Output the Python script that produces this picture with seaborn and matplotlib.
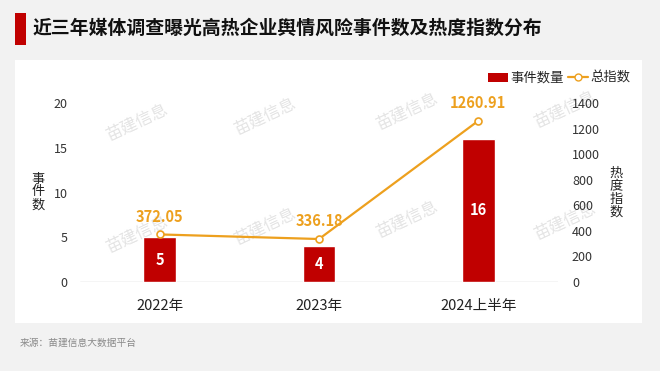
import matplotlib
matplotlib.use("Agg")
import matplotlib.pyplot as plt
import matplotlib.patches as mpatches
from matplotlib.lines import Line2D
import seaborn as sns
import pandas as pd

# data
periods = ["2022年", "2023年", "2024上半年"]
event_counts = [5, 4, 16]
heat_index = [372.05, 336.18, 1260.91]

RED = "#c00000"
ORANGE = "#eda01e"
BG = "#f2f2f2"

sns.set_theme(style="white")
plt.rcParams["font.family"] = ["Noto Sans CJK SC", "DejaVu Sans"]

df = pd.DataFrame({"period": periods, "count": event_counts, "heat": heat_index})

fig = plt.figure(figsize=(6.6, 3.71), dpi=100, facecolor=BG)

# white panel behind the chart
panel_ax = fig.add_axes([15 / 660, 1 - 323 / 371, 627 / 660, 263 / 371], zorder=-5)
panel_ax.set_facecolor("white")
panel_ax.set_xticks([])
panel_ax.set_yticks([])
for s in panel_ax.spines.values():
    s.set_visible(False)

# faint watermark
for wx, wy in [(137, 123), (265, 117), (407, 112), (565, 110),
               (137, 235), (265, 227), (407, 220), (565, 222)]:
    fig.text(wx / 660, 1 - wy / 371, "苗建信息", fontsize=12, color="#e4e4e4",
             rotation=25, ha="center", va="center", zorder=-4)

# title with red bar marker
fig.patches.append(mpatches.Rectangle((15 / 660, 1 - 45 / 371), 11 / 660, 32 / 371,
                                      transform=fig.transFigure, facecolor=RED,
                                      edgecolor="none"))
fig.text(33 / 660, 1 - 28 / 371, "近三年媒体调查曝光高热企业舆情风险事件数及热度指数分布",
         fontsize=13.6, fontweight="bold", color="#111111", va="center", ha="left")

fig.text(20 / 660, 1 - 343 / 371, "来源：苗建信息大数据平台",
         fontsize=7, color="#8a8a8a", va="center", ha="left")

ax = fig.add_axes([80 / 660, 1 - 282 / 371, 478 / 660, 179 / 371])
ax.set_facecolor("none")
sns.barplot(data=df, x="period", y="count", color=RED, width=0.207,
            saturation=1, ax=ax, zorder=2)
ax.set_ylim(0, 20)
ax.set_yticks([0, 5, 10, 15, 20])
ax.set_xlim(-0.5, 2.5)
ax.set_xlabel("")
ax.set_ylabel("")
for s in ax.spines.values():
    s.set_visible(False)
ax.axhline(0, color="#d0d0d0", lw=1, zorder=1)
ax.tick_params(axis="y", labelsize=9, colors="#333333", pad=9, length=0)
ax.tick_params(axis="x", labelsize=10.5, colors="#222222", pad=12, length=0)

for i, v in enumerate(event_counts):
    ax.text(i, v / 2, str(v), ha="center", va="center", color="white",
            fontsize=10.5, fontweight="bold", zorder=5)

ax2 = ax.twinx()
sns.pointplot(data=df, x="period", y="heat", color=ORANGE, markers="o",
              markersize=5, linewidth=1.6, ax=ax2, zorder=4)
for ln in ax2.lines:
    ln.set_markerfacecolor("white")
    ln.set_markeredgecolor(ORANGE)
    ln.set_markeredgewidth(1.2)
ax2.set_ylim(0, 1400)
ax2.set_yticks(range(0, 1401, 200))
ax2.set_xlim(-0.5, 2.5)
ax2.set_ylabel("")
for s in ax2.spines.values():
    s.set_visible(False)
ax2.tick_params(axis="y", labelsize=9, colors="#333333", pad=10, length=0)
for lab in ax2.get_yticklabels():
    lab.set_horizontalalignment("left")

for i, v in enumerate(heat_index):
    ax2.text(i, v + 75, f"{v:.2f}", ha="center", va="bottom", color=ORANGE,
             fontsize=10.5, fontweight="bold")

fig.text(38 / 660, 1 - 192 / 371, "事\n件\n数", fontsize=9.5, color="#222222",
         ha="center", va="center", linespacing=1.0)
fig.text(616 / 660, 1 - 193 / 371, "热\n度\n指\n数", fontsize=9.5, color="#222222",
         ha="center", va="center", linespacing=1.0)

handles = [mpatches.Patch(facecolor=RED, edgecolor="none"),
           Line2D([0], [0], color=ORANGE, lw=1.6, marker="o", markersize=5,
                  markerfacecolor="white", markeredgecolor=ORANGE)]
fig.legend(handles, ["事件数量", "总指数"], loc="center right",
           bbox_to_anchor=(640 / 660, 1 - 78 / 371), ncol=2, frameon=False,
           fontsize=9.6, handlelength=1.5, handletextpad=0.2, columnspacing=0.3,
           borderpad=0.2)

fig.savefig("out.png", dpi=100, facecolor=BG)
